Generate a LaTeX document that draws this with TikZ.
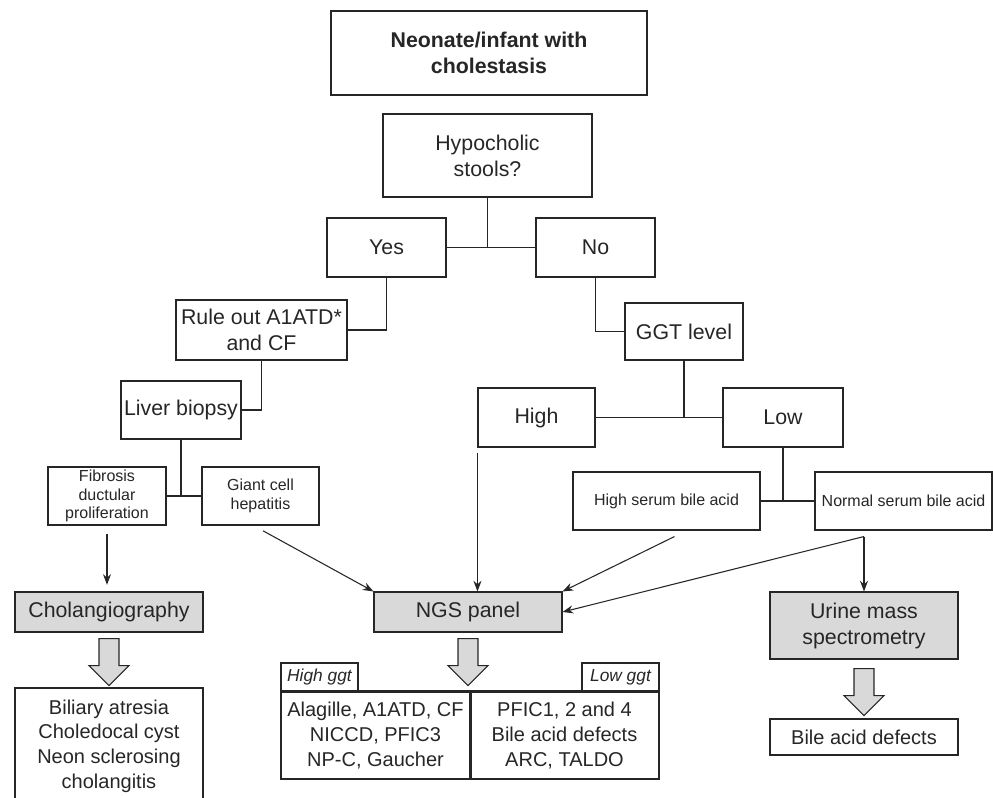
\documentclass[tikz,border=0pt]{standalone}
\usepackage{fontspec}
\setmainfont{Liberation Sans}
\usetikzlibrary{arrows.meta}
\usetikzlibrary{calc}
\usetikzlibrary{positioning}

\definecolor{boxgray}{gray}{0.85}

\begin{document}
\begin{tikzpicture}[x = 0.75pt, y = -0.75pt, line width = 0.8pt, black!85,
    box/.style 2 args = {draw, align = center, minimum width = #1*0.75pt, minimum height = #2*0.75pt, inner sep = 2pt},
    big/.style = {font = \fontsize{16}{19.5}\selectfont},
    mid/.style = {font = \fontsize{15}{18.5}\selectfont},
    small/.style = {font = \fontsize{12}{14}\selectfont},
    tab/.style = {font = \fontsize{13}{15}\selectfont\itshape},
    test/.style = {fill = boxgray},
    arr/.style = {-{Stealth[length = 8pt, width = 6pt]}}]

    \clip[use as bounding box] (0,0) rectangle (993,797);

    % question boxes
    \node (start)   [box = {316}{84}, font = \fontsize{16}{19.5}\selectfont\bfseries] at (489,53) {Neonate/infant with\\cholestasis};
    \node (stools)  [box = {209}{83}, big] at (487.5,155.5) {Hypocholic\\stools?};
    \node (yes)     [box = {119}{59}, big] at (386.5,247.5) {Yes};
    \node (no)      [box = {119}{59}, big] at (595.5,247.5) {No};
    \node (ruleout) [box = {171}{60}, big] at (261.5,330) {Rule out A1ATD*\\and CF};
    \node (ggt)     [box = {118}{57}, big] at (684,331.5) {GGT level};
    \node (biopsy)  [box = {120}{58}, big] at (181,410) {Liver biopsy};
    \node (high)    [box = {117}{59}, big] at (536.5,417.5) {High};
    \node (low)     [box = {120}{59}, big] at (783,417.5) {Low};

    \node (fibrosis) [box = {118}{58}, small] at (107,496) {Fibrosis\\ductular\\proliferation};
    \node (giant)    [box = {117}{58}, small] at (260.5,496) {Giant cell\\hepatitis};
    \node (highba)   [box = {187}{58}, small] at (666.5,501) {High serum bile acid};
    \node (normba)   [box = {177}{58}, small] at (903.5,501) {Normal serum bile acid};

    % tests
    \node (chol)  [box = {188}{40}, big, test] at (109,612) {Cholangiography};
    \node (ngs)   [box = {188}{40}, big, test] at (468,612) {NGS panel};
    \node (urine) [box = {188}{67}, big, test] at (864,625.5) {Urine mass\\spectrometry};

    % results
    \node (atresia) [box = {188}{116}, mid] at (109,746) {Biliary atresia\\Choledocal cyst\\Neon sclerosing\\cholangitis};
    \node (bileout) [box = {188}{36}, mid] at (864,737) {Bile acid defects};
    \node (highggt) [box = {189}{87}, mid] at (375.5,735.5) {Alagille, A1ATD, CF\\NICCD, PFIC3\\NP-C, Gaucher};
    \node (lowggt)  [box = {189}{87}, mid] at (564.5,735.5) {PFIC1, 2 and 4\\Bile acid defects\\ARC, TALDO};
    \node (hightab) [box = {77}{29}, tab] at (319.5,677.5) {High ggt};
    \node (lowtab)  [box = {77}{29}, tab] at (620.5,677.5) {Low ggt};
    \draw[line width = 1.6pt] (highggt.north west) -- (lowggt.north east);
    \draw[line width = 1.6pt] (highggt.north east) -- (highggt.south east);

    % tree lines
    \draw (stools.south) -- (stools.south |- yes.east);
    \draw (yes.east) -- (no.west);
    \draw (yes.south) |- (ruleout.east);
    \draw (ruleout.south) |- (biopsy.east);
    \draw (biopsy.south) -- (biopsy.south |- fibrosis.east);
    \draw (fibrosis.east) -- (giant.west);
    \draw (no.south) |- (ggt.west);
    \draw (ggt.south) -- (ggt.south |- high.east);
    \draw (high.east) -- (low.west);
    \draw (low.south) -- (low.south |- highba.east);
    \draw (highba.east) -- (normba.west);

    % arrows to the tests
    \coordinate (split) at ([yshift = -4.5pt]normba.south -| urine.north);
    \draw[arr, shorten > = 5pt] ([yshift = -6pt]fibrosis.south) -- (fibrosis.south |- chol.north);
    \draw[arr] ([xshift = 2pt, yshift = -4pt]giant.south) -- (ngs.north west);
    \draw[arr] ([yshift = -4pt]high.south west) -- (high.south west |- ngs.north);
    \draw[arr] ([xshift = 6pt, yshift = -4.5pt]highba.south) -- (ngs.north east);
    \draw[arr] (split) -- (ngs.east);
    \draw[arr] (split) -- (urine.north);

    % block arrows
    \foreach \SRC/\GAP in {chol/6, ngs/6, urine/9}{
        \begin{scope}[shift = (\SRC.south)]
            \filldraw[fill = boxgray]
                (-10,\GAP) -- (-10,\GAP+27) -- (-20,\GAP+27) -- (0,\GAP+47) -- (20,\GAP+27) -- (10,\GAP+27) -- (10,\GAP) -- cycle;
        \end{scope}}

\end{tikzpicture}
\end{document}
